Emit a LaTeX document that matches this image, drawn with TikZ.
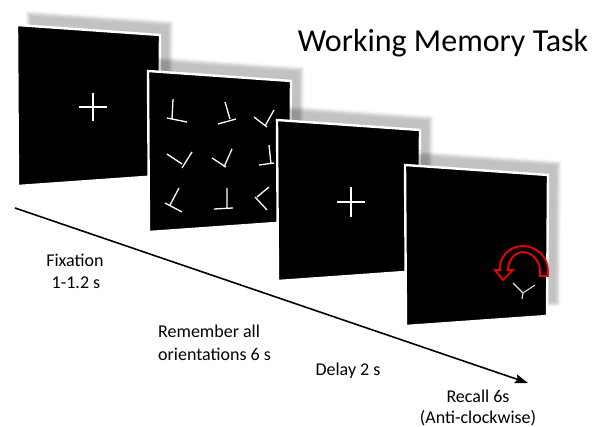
\documentclass[tikz,border=0pt]{standalone}
\usepackage{fontspec}
\setmainfont{Carlito}
\usetikzlibrary{arrows.meta,shadows.blur}

% one stimulus screen: a slightly slanted black card with a white rim
\newcommand\screenat[2]{%
  \path[screen,shift={#2}] (0,0) -- (143,10) -- (142,151) -- (1,161) -- cycle;
  \coordinate (#1) at #2;}

\begin{document}
\begin{tikzpicture}[x=1pt,y=-1pt,
  screen/.style={fill=black, draw=white, line width=2.4pt, line join=miter,
    blur shadow={shadow xshift=11pt, shadow yshift=12pt,
                 shadow blur radius=3pt, shadow opacity=24}},
  glyph/.style={draw=white, line width=1.3pt, line cap=butt},
  probe/.style={draw=black!12, line width=1.1pt},
  lbl/.style={font=\fontsize{18}{22}\selectfont, anchor=base, inner sep=0pt},
  timeline/.style={draw=black, line width=1.6pt,
    -{Stealth[length=13pt,width=9pt,inset=2pt]}},
  turn/.style={fill=black, draw=red, line width=1.7pt, line join=miter}]

\useasboundingbox (0,0) rectangle (608,427);

% title
\node[font=\fontsize{32}{38}\selectfont, anchor=base, inner sep=0pt]
  (title) at (443,52) {Working Memory Task};

% screen 1: fixation cross
\screenat{s1}{(17,25)}
\draw[glyph] (79,107) -- (107,107) (93,93) -- (93,121);

% screen 2: memory array of nine oriented bars
\screenat{s2}{(148,71)}
\draw[glyph]
  (173,99) -- (172,119)  (167,118) -- (187,122)
  (225,102) -- (230,119) (218,124) -- (236,119)
  (254,117) -- (267,127) (274,110) -- (265,126)
  (167,154) -- (182,164) (192,152) -- (182,168)
  (212,158) -- (226,167) (232,149) -- (224,167)
  (269,145) -- (271,164) (259,165) -- (274,163)
  (179,188) -- (170,205) (165,203) -- (182,212)
  (227,188) -- (227,208) (214,209) -- (233,208)
  (269,187) -- (257,197) (255,197) -- (267,210);

% screen 3: delay, fixation cross
\screenat{s3}{(277,120)}
\draw[glyph] (337,202) -- (365,202) (351,187) -- (351,217);

% screen 4: recall probe with rotation cue
\screenat{s4}{(405,165)}
\draw[turn]
  (548,276) -- (548,270)
  .. controls (548,257.3) and (536.8,246) .. (523,246)
  .. controls (509.2,246) and (499,257.3) .. (500,270)
  -- (495,270) -- (503,280) -- (513,270) -- (508,270)
  .. controls (508,260.6) and (514.7,252) .. (523,252)
  .. controls (531.3,252) and (540,260.6) .. (540,270)
  -- (540,276) -- cycle;
\draw[probe] (513,283) -- (523,293) -- (535,285) (523,293) -- (522,299);

% time axis
\coordinate (tstart) at (15,208);
\coordinate (tend) at (528,383);
\draw[timeline] (tstart) -- (tend);

% phase labels
\node[lbl] (fix1) at (75,267) {Fixation};
\node[lbl] (fix2) at (76,289) {1-1.2 s};
\node[lbl, anchor=base west] (mem1) at (158,338) {Remember all};
\node[lbl, anchor=base west] (mem2) at (158,361) {orientations 6 s};
\node[lbl] (del) at (348,376) {Delay 2 s};
\node[lbl] (rec1) at (478,403) {Recall 6s};
\node[lbl] (rec2) at (478,424) {(Anti-clockwise)};
\end{tikzpicture}
\end{document}
